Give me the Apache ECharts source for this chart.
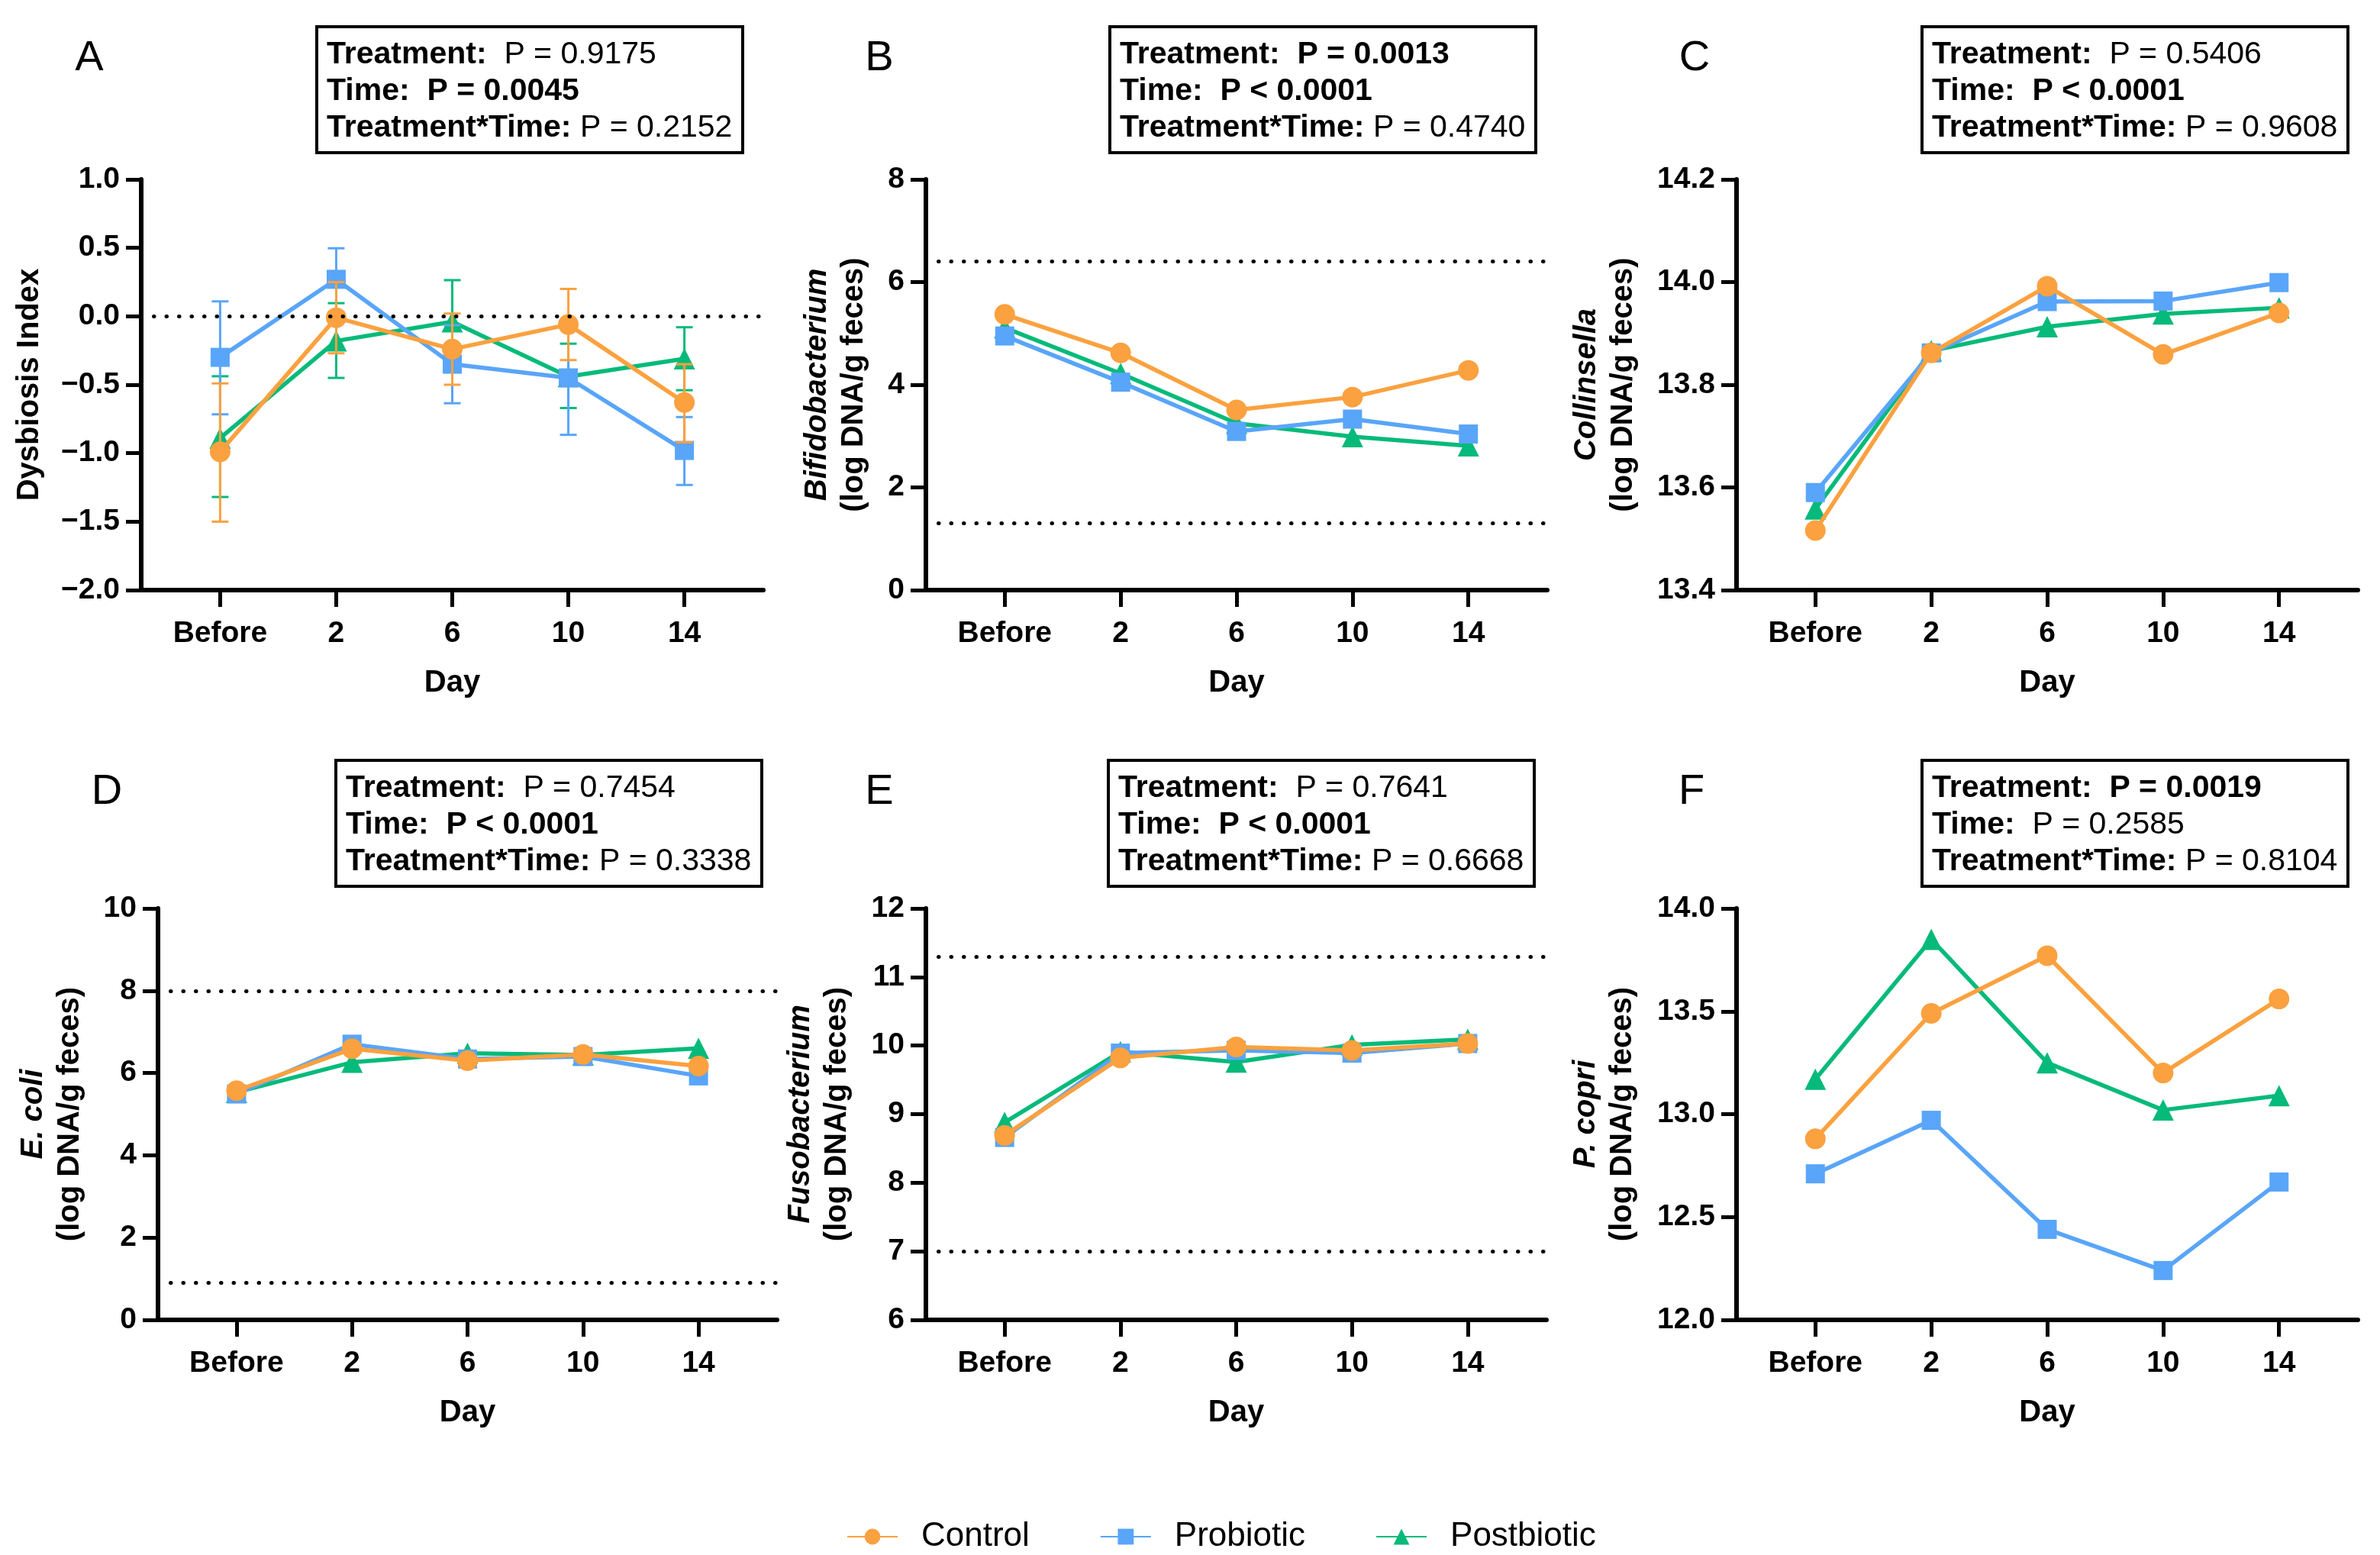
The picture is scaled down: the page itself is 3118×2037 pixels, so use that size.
<!doctype html>
<html>
<head>
<meta charset="utf-8">
<title>Fecal microbiota over time</title>
<script src="https://cdn.jsdelivr.net/npm/echarts@6/dist/echarts.min.js"></script>
<style>
html, body { margin: 0; background: #fff; }
#chart { width: 3118px; height: 2037px; }
</style>
</head>
<body>
<div id="chart"></div>
<script>
// categories and groups
var days = ['Before', '2', '6', '10', '14'];
var groups = ['Control', 'Probiotic', 'Postbiotic'];

// A - dysbiosis index (mean, error bar low / high)
var dysControl = [-0.99, -0.01, -0.24, -0.06, -0.63];
var dysProbiotic = [-0.30, 0.27, -0.35, -0.45, -0.98];
var dysPostbiotic = [-0.89, -0.18, -0.04, -0.44, -0.31];
var dysControlLow = [-1.50, -0.27, -0.50, -0.32, -0.92];
var dysControlHigh = [-0.49, 0.25, 0.02, 0.20, -0.35];
var dysProbioticLow = [-0.716, 0.03, -0.635, -0.866, -1.232];
var dysProbioticHigh = [0.109, 0.497, -0.065, -0.03, -0.736];
var dysPostbioticLow = [-1.32, -0.45, -0.34, -0.67, -0.54];
var dysPostbioticHigh = [-0.438, 0.096, 0.264, -0.20, -0.08];

// B - Bifidobacterium
var bifControl = [5.37, 4.62, 3.51, 3.76, 4.28];
var bifProbiotic = [4.95, 4.05, 3.09, 3.33, 3.04];
var bifPostbiotic = [5.11, 4.22, 3.25, 2.99, 2.81];

// C - Collinsella
var colControl = [13.516, 13.862, 13.992, 13.859, 13.94];
var colProbiotic = [13.59, 13.862, 13.962, 13.963, 13.999];
var colPostbiotic = [13.558, 13.866, 13.913, 13.938, 13.95];

// D - E. coli
var ecoControl = [5.57, 6.59, 6.30, 6.45, 6.17];
var ecoProbiotic = [5.49, 6.70, 6.34, 6.40, 5.93];
var ecoPostbiotic = [5.53, 6.26, 6.48, 6.44, 6.60];

// E - Fusobacterium
var fusControl = [8.69, 9.82, 9.98, 9.93, 10.03];
var fusProbiotic = [8.66, 9.89, 9.93, 9.89, 10.03];
var fusPostbiotic = [8.88, 9.91, 9.76, 10.01, 10.09];

// F - P. copri
var copControl = [12.88, 13.49, 13.77, 13.20, 13.56];
var copProbiotic = [12.71, 12.97, 12.44, 12.24, 12.67];
var copPostbiotic = [13.17, 13.85, 13.25, 13.02, 13.09];

// reference (dotted) lines
var refA = [0];
var refB = [6.4, 1.3];
var refD = [8, 0.9];
var refE = [11.3, 7.0];

// p values: [text, bold]
var pTreatment = [['P = 0.9175', 0], ['P = 0.0013', 1], ['P = 0.5406', 0], ['P = 0.7454', 0], ['P = 0.7641', 0], ['P = 0.0019', 1]];
var pTime = [['P = 0.0045', 1], ['P < 0.0001', 1], ['P < 0.0001', 1], ['P < 0.0001', 1], ['P < 0.0001', 1], ['P = 0.2585', 0]];
var pInter = [['P = 0.2152', 0], ['P = 0.4740', 0], ['P = 0.9608', 0], ['P = 0.3338', 0], ['P = 0.6668', 0], ['P = 0.8104', 0]];

var FONT = 'Liberation Sans';
var colors = ['#FBA13F', '#59A5F9', '#05BA7A'];
var symbols = ['circle', 'rect', 'triangle'];
var symbolSizes = [27, 25, 28];
var zs = [4, 3, 2];

var panels = [
  { letter: 'A', name: '{n|Dysbiosis Index}', gap: 122, min: -2, max: 1, interval: 0.5, dec: 1,
    vals: [dysControl, dysProbiotic, dysPostbiotic], refs: refA,
    errs: [[dysControlLow, dysControlHigh], [dysProbioticLow, dysProbioticHigh], [dysPostbioticLow, dysPostbioticHigh]],
    grid: [185, 235, 815, 538], box: [415, 35], lx: 117 },
  { letter: 'B', name: '{i|Bifidobacterium}\n{n|(log DNA/g feces)}', gap: 70, min: 0, max: 8, interval: 2, dec: 0,
    vals: [bifControl, bifProbiotic, bifPostbiotic], refs: refB,
    grid: [1213, 235, 814, 538], box: [1454, 35], lx: 1152 },
  { letter: 'C', name: '{i|Collinsella}\n{n|(log DNA/g feces)}', gap: 124, min: 13.4, max: 14.2, interval: 0.2, dec: 1,
    vals: [colControl, colProbiotic, colPostbiotic], refs: [],
    grid: [2275, 235, 814, 538], box: [2518, 35], lx: 2220 },
  { letter: 'D', name: '{i|E. coli}\n{n|(log DNA/g feces)}', gap: 91, min: 0, max: 10, interval: 2, dec: 0,
    vals: [ecoControl, ecoProbiotic, ecoPostbiotic], refs: refD,
    grid: [207, 1190, 811, 539], box: [440, 996], lx: 140 },
  { letter: 'E', name: '{i|Fusobacterium}\n{n|(log DNA/g feces)}', gap: 92, min: 6, max: 12, interval: 1, dec: 0,
    vals: [fusControl, fusProbiotic, fusPostbiotic], refs: refE,
    grid: [1213, 1190, 813, 539], box: [1452, 996], lx: 1152 },
  { letter: 'F', name: '{i|P. copri}\n{n|(log DNA/g feces)}', gap: 125, min: 12, max: 14, interval: 0.5, dec: 1,
    vals: [copControl, copProbiotic, copPostbiotic], refs: [],
    grid: [2275, 1190, 814, 539], box: [2518, 996], lx: 2216 }
];

var grids = [], xAxes = [], yAxes = [], series = [], graphics = [];
// x positions of the five days (1..5) so the axis range never contains zero
var xpos = [1, 2, 3, 4, 5];

function errorRenderer(color) {
  return function (params, api) {
    var x = api.value(0);
    var lo = api.coord([x, api.value(1)]);
    var hi = api.coord([x, api.value(2)]);
    var hw = 11;
    var st = { stroke: color, lineWidth: 3 };
    return { type: 'group', children: [
      { type: 'line', shape: { x1: lo[0], y1: lo[1], x2: hi[0], y2: hi[1] }, style: st },
      { type: 'line', shape: { x1: lo[0] - hw, y1: lo[1], x2: lo[0] + hw, y2: lo[1] }, style: st },
      { type: 'line', shape: { x1: hi[0] - hw, y1: hi[1], x2: hi[0] + hw, y2: hi[1] }, style: st }
    ] };
  };
}

panels.forEach(function (p, k) {
  grids.push({ left: p.grid[0], top: p.grid[1], width: p.grid[2], height: p.grid[3], containLabel: false });
  xAxes.push({
    type: 'value', gridIndex: k, min: 0.32, max: 5.68,
    name: 'Day', nameLocation: 'middle', nameGap: 102,
    nameTextStyle: { fontFamily: FONT, fontWeight: 'bold', fontSize: 40, color: '#000' },
    axisLine: { onZero: false, lineStyle: { color: '#000', width: 6 } },
    axisTick: { customValues: xpos, length: 22, lineStyle: { color: '#000', width: 5 } },
    axisLabel: { customValues: xpos, margin: 38, color: '#000', fontFamily: FONT, fontWeight: 'bold', fontSize: 39,
      formatter: function (v) { return days[Math.round(v) - 1]; } },
    splitLine: { show: false }
  });
  yAxes.push({
    type: 'value', gridIndex: k, min: p.min, max: p.max, interval: p.interval,
    name: p.name, nameLocation: 'middle', nameGap: p.gap,
    nameTextStyle: { color: '#000', lineHeight: 48, rich: {
      i: { fontFamily: FONT, fontWeight: 'bold', fontStyle: 'italic', fontSize: 40, lineHeight: 48 },
      n: { fontFamily: FONT, fontWeight: 'bold', fontSize: 40, lineHeight: 48 } } },
    axisLine: { show: true, onZero: false, lineStyle: { color: '#000', width: 6 } },
    axisTick: { show: true, length: 20, lineStyle: { color: '#000', width: 5 } },
    axisLabel: { margin: 28, color: '#000', fontFamily: FONT, fontWeight: 'bold', fontSize: 39,
      formatter: function (v) { return v.toFixed(p.dec).replace('-', '\u2212'); } },
    splitLine: { show: false }
  });

  groups.forEach(function (g, j) {
    if (p.errs) {
      series.push({
        type: 'custom', name: g + ' SEM', xAxisIndex: k, yAxisIndex: k, z: zs[j], silent: true,
        renderItem: errorRenderer(colors[j]),
        encode: { x: 0, y: [1, 2] },
        data: xpos.map(function (x, i) { return [x, p.errs[j][0][i], p.errs[j][1][i]]; })
      });
    }
    var s = {
      type: 'line', name: g, xAxisIndex: k, yAxisIndex: k, z: zs[j],
      data: xpos.map(function (x, i) { return [x, p.vals[j][i]]; }),
      symbol: symbols[j], symbolSize: symbolSizes[j],
      lineStyle: { color: colors[j], width: 5.5 },
      itemStyle: { color: colors[j] }
    };
    if (j === 0 && p.refs.length) {
      s.markLine = {
        silent: true, symbol: 'none', label: { show: false }, animation: false,
        lineStyle: { color: '#000', width: 5, type: [0.5, 16], cap: 'round' },
        data: p.refs.map(function (v) { return { yAxis: v }; })
      };
    }
    series.push(s);
  });

  // statistics box
  var bx = p.box[0], by = p.box[1];
  graphics.push({ type: 'rect', shape: { x: bx, y: by, width: 558, height: 165 },
    style: { fill: '#fff', stroke: '#000', lineWidth: 4 } });
  var rows = [['Treatment:  ', pTreatment[k]], ['Time:  ', pTime[k]], ['Treatment*Time: ', pInter[k]]];
  rows.forEach(function (r, j) {
    graphics.push({ type: 'text', x: bx + 13, y: by + 37 + j * 48,
      style: { text: '{b|' + r[0] + '}{' + (r[1][1] ? 'b' : 'r') + '|' + r[1][0] + '}',
        verticalAlign: 'middle', fill: '#000',
        rich: { b: { fontFamily: FONT, fontWeight: 'bold', fontSize: 41 },
                r: { fontFamily: FONT, fontSize: 41 } } } });
  });
  graphics.push({ type: 'text', x: p.lx, y: by + 42,
    style: { text: p.letter, fontFamily: FONT, fontSize: 56, fill: '#000', align: 'center', verticalAlign: 'middle' } });
});

var option = {
  animation: false,
  backgroundColor: '#fff',
  textStyle: { fontFamily: FONT },
  grid: grids,
  xAxis: xAxes,
  yAxis: yAxes,
  legend: {
    data: groups, left: 1104, top: 1986, itemWidth: 66, itemHeight: 26, itemGap: 92,
    textStyle: { fontFamily: FONT, fontSize: 44, color: '#000', padding: [0, 0, 0, 26] }
  },
  graphic: graphics,
  series: series
};

var myChart = echarts.init(document.getElementById('chart'));
myChart.setOption(option);
</script>
</body>
</html>
